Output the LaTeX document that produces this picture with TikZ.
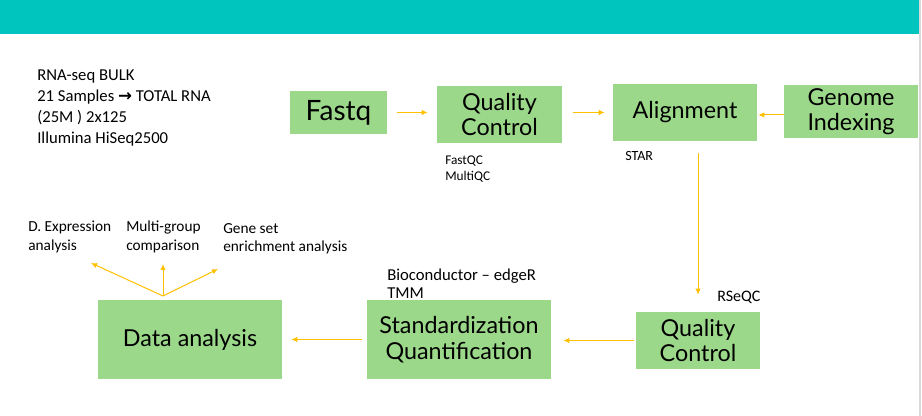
\documentclass[tikz,border=0pt]{standalone}
\usepackage{fontspec}
\setmainfont{Carlito}
\newfontfamily\boxfont{Lato}
\newfontfamily\symfont{DejaVu Sans}
\usetikzlibrary{arrows.meta,calc}
\definecolor{tealbar}{HTML}{00C4BE}
\definecolor{boxgreen}{HTML}{9CD88A}
\definecolor{arrowgold}{HTML}{FFC000}
\begin{document}
\begin{tikzpicture}[x=0.75pt,y=-0.75pt,
  proc/.style={fill=boxgreen, inner sep=0pt, align=center, font=\boxfont\fontsize{17.5}{19}\selectfont},
  lbl/.style={anchor=west, inner sep=0pt, align=left},
  flow/.style={draw=arrowgold, line width=0.75pt, -{Latex[length=4.5pt,width=4pt]}}]
\useasboundingbox (0,0) rectangle (922,416);
\fill[white] (0,0) rectangle (922,416);
\fill[tealbar] (0,0) rectangle (919,34);
\fill[black!15] (919,0) rectangle (921,416);

% process boxes
\node[proc, minimum width=72.75pt, minimum height=32.25pt, font=\boxfont\fontsize{21}{22}\selectfont] (fastq) at (338.5,112.5) {Fastq};
\node[proc, minimum width=93.75pt, minimum height=42.75pt] (qc1) at (499.5,114.5) {Quality\\Control};
\node[proc, minimum width=108pt, minimum height=42.75pt] (align) at (685,112.5) {Alignment};
\node[proc, minimum width=100.5pt, minimum height=39.75pt] (genome) at (851,111.5) {Genome\\Indexing};
\node[proc, minimum width=93pt, minimum height=42.75pt] (qc2) at (698,340.5) {Quality\\Control};
\node[proc, minimum width=138pt, minimum height=59.25pt] (std) at (459,339.5) {Standardization\\Quantification};
\node[proc, minimum width=138pt, minimum height=59.25pt] (data) at (190,339.5) {Data analysis};

% labels
\node[lbl, font=\fontsize{12.5}{15.75}\selectfont] (info) at (37,108) {RNA-seq BULK\\21 Samples {\symfont\bfseries →} TOTAL RNA\\(25M ) 2x125\\Illumina HiSeq2500};
\node[lbl, font=\fontsize{10}{12}\selectfont] (fastqc) at (445,169) {FastQC\\MultiQC};
\node[lbl, font=\fontsize{10.5}{12}\selectfont] (star) at (625,156) {STAR};
\node[lbl, font=\fontsize{12}{13}\selectfont] (rseqc) at (717,297) {RSeQC};
\node[lbl, font=\fontsize{12.5}{13.5}\selectfont] (bioc) at (387,284) {Bioconductor -- edgeR\\TMM};
\node[lbl, font=\fontsize{11.5}{14.25}\selectfont] (dexp) at (28,236.5) {D. Expression\\analysis};
\node[lbl, font=\fontsize{11.5}{14.25}\selectfont] (multi) at (126,236.5) {Multi-group\\comparison};
\node[lbl, font=\fontsize{11.5}{13.5}\selectfont] (gset) at (223,239) {Gene set\\enrichment analysis};

% connectors
\draw[flow, shorten <=7.5pt, shorten >=6.75pt] (fastq.east) -- (fastq.east -| qc1.west);
\draw[flow, shorten <=8.25pt, shorten >=6pt] (align.west -| qc1.east) -- (align.west);
\draw[flow, shorten >=0.75pt] ([yshift=-2.6pt]genome.west) -- ([yshift=-2.6pt]genome.west -| align.east);
\draw[flow, shorten <=9pt, shorten >=12.75pt] (align.south -| qc2.north) -- (qc2.north);
\draw[flow, shorten <=1.5pt, shorten >=9pt] (qc2.west) -- (qc2.west -| std.east);
\draw[flow, shorten <=3.75pt, shorten >=6.75pt] (std.west) -- (std.west -| data.east);

\coordinate (fan) at (163,296);
\coordinate (tipdexp) at (91,263);
\coordinate (tipmulti) at (163,264);
\coordinate (tipgset) at (218,269);
\draw[flow] (fan) -- (tipdexp);
\draw[flow] (fan) -- (tipmulti);
\draw[flow] (fan) -- (tipgset);
\end{tikzpicture}
\end{document}
